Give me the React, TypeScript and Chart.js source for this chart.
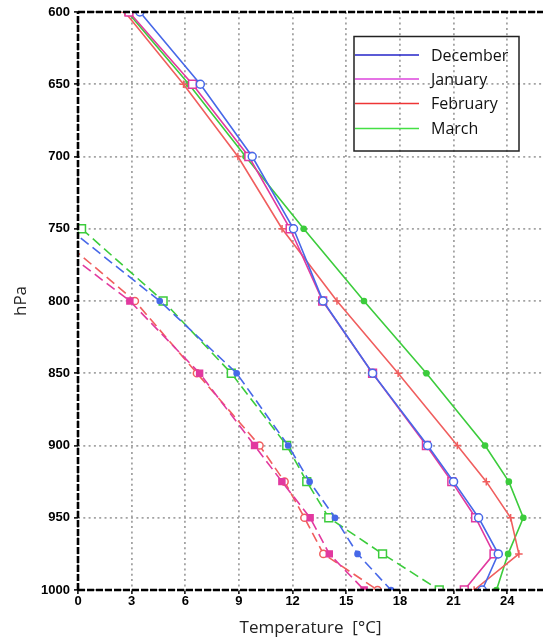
import React, { useEffect, useRef } from "react";
import { Chart, registerables } from "chart.js";

Chart.register(...registerables);

// Pressure levels (hPa)
const levels = [600, 650, 700, 750, 800, 850, 900, 925, 950, 975, 1000];
// Solid curves (air temperature, °C)
const decTemp = [3.46, 6.84, 9.74, 12.05, 13.7, 16.47, 19.55, 21.0, 22.4, 23.5, 22.6];
const janTemp = [2.85, 6.4, 9.55, 11.86, 13.68, 16.47, 19.48, 20.9, 22.23, 23.26, 21.6];
const febTemp = [2.62, 5.9, 8.94, 11.41, 14.48, 17.9, 21.21, 22.83, 24.19, 24.65, 22.15];
const marTemp = [2.77, 6.2, 9.37, 12.62, 15.99, 19.48, 22.76, 24.09, 24.9, 24.05, 23.4];

// Dashed curves (lower levels)
const dewLevels = [750, 800, 850, 900, 925, 950, 975, 1000];
const decDew = [-0.5, 4.57, 8.87, 11.75, 12.95, 14.37, 15.63, 17.5];
const janDew = [-2.4, 2.9, 6.8, 9.87, 11.4, 12.98, 14.05, 16.0];
const febDew = [-1.6, 3.18, 6.65, 10.15, 11.55, 12.66, 13.72, 16.75];
const marDew = [0.2, 4.76, 8.57, 11.67, 12.79, 14.02, 17.03, 20.2];

const months = ["December", "January", "February", "March"];
const lineColors = ["#4768e8", "#e2399f", "#f05e5e", "#3ccc3c"];
const legendColors = ["#2525c8", "#dd44dd", "#ee3535", "#44e044"];

const xTicks = [0, 3, 6, 9, 12, 15, 18, 21, 24];
const yTicks = [600, 650, 700, 750, 800, 850, 900, 950, 1000];

const xTitle = "Temperature  [°C]";
const yTitle = "hPa";

const tempSeries = [decTemp, janTemp, febTemp, marTemp];
const dewSeries = [decDew, janDew, febDew, marDew];

// marker styles: [style, radius, filled]
const solidMarkers: [string, number, boolean][] = [
  ["circle", 4, false],
  ["rect", 5.5, false],
  ["cross", 3.8, false],
  ["circle", 2.6, true],
];
const dashMarkers: [string, number, boolean][] = [
  ["circle", 2.6, true],
  ["rect", 4.2, true],
  ["circle", 3.6, false],
  ["rect", 5.5, false],
];

const framePlugin = {
  id: "frame",
  afterDatasetsDraw(chart: any) {
    const { ctx, chartArea } = chart;
    const { left, right, top, bottom } = chartArea;
    ctx.save();
    ctx.strokeStyle = "#000";
    ctx.lineWidth = 2.6;
    ctx.setLineDash([7, 2]);
    ctx.beginPath();
    ctx.moveTo(left, bottom);
    ctx.lineTo(left, top);
    ctx.moveTo(left, top);
    ctx.lineTo(right + 2, top);
    ctx.moveTo(left, bottom);
    ctx.lineTo(right + 2, bottom);
    ctx.stroke();
    ctx.restore();

    // legend box
    const bx = 354;
    const by = 36.5;
    const bw = 165;
    const bh = 114.5;
    ctx.save();
    ctx.strokeStyle = "#222";
    ctx.lineWidth = 1.5;
    ctx.strokeRect(bx, by, bw, bh);
    const rows = [55, 79, 103.5, 128.5];
    ctx.font = "16px 'Open Sans', sans-serif";
    ctx.textBaseline = "middle";
    ctx.textAlign = "left";
    months.forEach((m, i) => {
      ctx.strokeStyle = legendColors[i];
      ctx.lineWidth = 1.6;
      ctx.beginPath();
      ctx.moveTo(bx + 1, rows[i]);
      ctx.lineTo(419, rows[i]);
      ctx.stroke();
      ctx.fillStyle = "#111";
      ctx.fillText(m, 431, rows[i] + 1);
    });
    ctx.restore();
  },
};

export default function App() {
  const canvasRef = useRef<HTMLCanvasElement | null>(null);

  useEffect(() => {
    if (!canvasRef.current) return;
    const datasets: any[] = [];
    months.forEach((m, i) => {
      const [ds, dr, df] = dashMarkers[i];
      datasets.push({
        label: m + " (dashed)",
        data: dewLevels.map((p, k) => ({ x: dewSeries[i][k], y: p })),
        borderColor: lineColors[i],
        borderWidth: 1.6,
        borderDash: [10, 5],
        pointStyle: ds,
        pointRadius: dr,
        pointBorderWidth: 1.5,
        pointBorderColor: lineColors[i],
        pointBackgroundColor: df ? lineColors[i] : "#fff",
        fill: false,
        tension: 0,
      });
    });
    months.forEach((m, i) => {
      const [ss, sr, sf] = solidMarkers[i];
      datasets.push({
        label: m,
        data: levels.map((p, k) => ({ x: tempSeries[i][k], y: p })),
        borderColor: lineColors[i],
        borderWidth: 1.6,
        pointStyle: ss,
        pointRadius: sr,
        pointBorderWidth: 1.5,
        pointBorderColor: lineColors[i],
        pointBackgroundColor: sf ? lineColors[i] : "#fff",
        fill: false,
        tension: 0,
      });
    });

    const tickFont = { family: "'Liberation Sans', Arial, sans-serif", size: 13, weight: "bold" as const };
    const titleFont = { family: "'Open Sans', sans-serif", size: 17 };

    const chart = new Chart(canvasRef.current, {
      type: "line",
      data: { datasets },
      options: {
        animation: false,
        responsive: true,
        maintainAspectRatio: false,
        layout: { padding: { left: 7, top: 12, right: 0, bottom: 1 } },
        plugins: {
          legend: { display: false },
          tooltip: { enabled: false },
        },
        scales: {
          x: {
            type: "linear",
            min: 0,
            max: 26,
            afterBuildTicks: (s: any) => {
              s.ticks = xTicks.map((v) => ({ value: v }));
            },
            afterFit: (s: any) => {
              s.height = 52;
              s.paddingLeft = 0;
              s.paddingRight = 0;
            },
            ticks: {
              font: tickFont,
              color: "#000",
              padding: 0,
              autoSkip: false,
              maxRotation: 0,
              callback: (v: any) => String(v),
            },
            grid: {
              color: "#a3a3a3",
              lineWidth: 1.8,
              tickLength: 4,
              tickColor: "#000",
              tickWidth: 1.5,
            },
            border: { display: false, dash: [2, 3.3] },
            title: { display: true, text: xTitle, font: titleFont, color: "#222" },
          },
          y: {
            type: "linear",
            reverse: true,
            min: 600,
            max: 1000,
            afterBuildTicks: (s: any) => {
              s.ticks = yTicks.map((v) => ({ value: v }));
            },
            afterFit: (s: any) => {
              s.width = 71;
            },
            ticks: {
              font: tickFont,
              color: "#000",
              padding: 4,
              autoSkip: false,
              callback: (v: any) => String(v),
            },
            grid: {
              color: "#a3a3a3",
              lineWidth: 1.8,
              tickLength: 4,
              tickColor: "#000",
              tickWidth: 1.5,
            },
            border: { display: false, dash: [2, 3.3] },
            title: { display: true, text: yTitle, font: titleFont, color: "#222" },
          },
        },
      },
      plugins: [framePlugin],
    });
    return () => chart.destroy();
  }, []);

  return (
    <div style={{ position: "absolute", left: 0, top: 0, width: 543, height: 643, overflow: "hidden", background: "#fff" }}>
      <div style={{ position: "relative", width: 550, height: 643 }}>
        <canvas ref={canvasRef} />
      </div>
    </div>
  );
}
